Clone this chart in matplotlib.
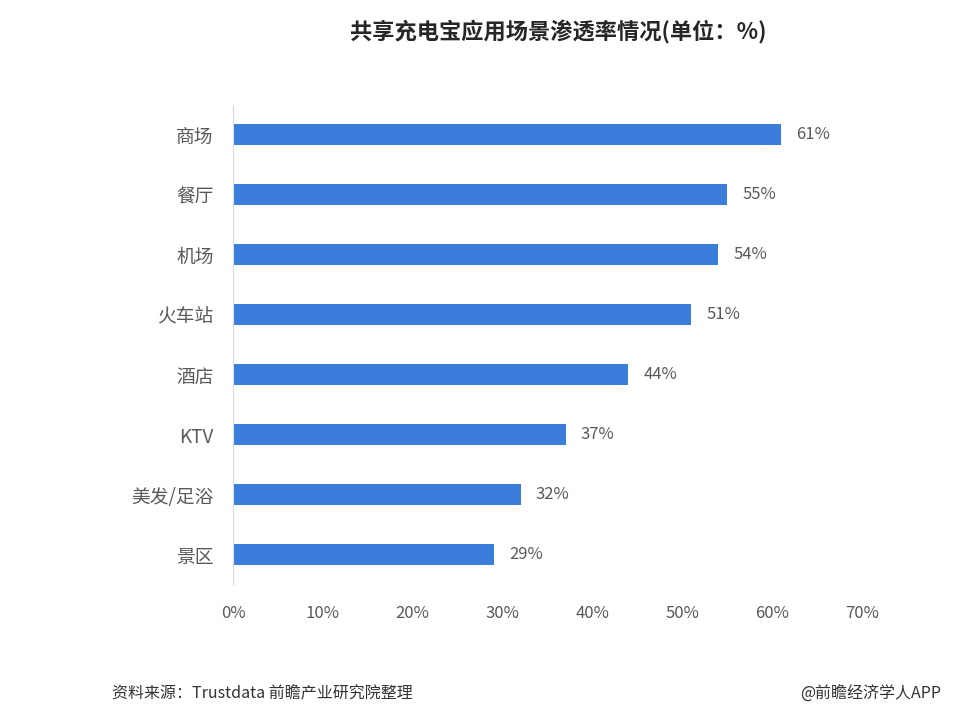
import matplotlib
matplotlib.use('Agg')
import matplotlib.pyplot as plt

plt.rcParams['font.family'] = ['Noto Sans CJK SC', 'DejaVu Sans']

# data
categories = ['商场', '餐厅', '机场', '火车站', '酒店', 'KTV', '美发/足浴', '景区']
values = [61, 55, 54, 51, 44, 37, 32, 29]
xticks = [0, 10, 20, 30, 40, 50, 60, 70]

bar_color = '#3a7ddb'
text_color = '#595959'

fig = plt.figure(figsize=(9.6, 7.19), dpi=100)
ax = fig.add_axes([0.2427, 0.187, 0.6553, 0.6676])

ypos = list(range(len(categories)))
ax.barh(ypos, values, height=0.36, color=bar_color)
for y, v in zip(ypos, values):
    ax.text(v + 1.7, y, f'{v}%', va='center', ha='left', fontsize=12, color=text_color)

ax.set_ylim(len(categories) - 0.5, -0.5)
ax.set_xlim(0, 70)
ax.set_yticks(ypos)
ax.set_yticklabels(categories, fontsize=13.5, color=text_color)
ax.set_xticks(xticks)
ax.set_xticklabels([f'{t}%' for t in xticks], fontsize=12, color=text_color)
ax.tick_params(axis='y', length=0, pad=14)
ax.tick_params(axis='x', length=0, pad=15)

for s in ['top', 'right', 'bottom']:
    ax.spines[s].set_visible(False)
ax.spines['left'].set_color('#d9d9d9')

fig.text(0.581, 0.955, '共享充电宝应用场景渗透率情况(单位：%)', ha='center', va='center',
         fontsize=16, fontweight='bold', color='#262626')
fig.text(0.117, 0.035, '资料来源：Trustdata 前瞻产业研究院整理', ha='left', va='center',
         fontsize=11.5, color='#333333')
fig.text(0.98, 0.035, '@前瞻经济学人APP', ha='right', va='center',
         fontsize=11.5, color='#333333')

fig.savefig('out.png', dpi=100)
